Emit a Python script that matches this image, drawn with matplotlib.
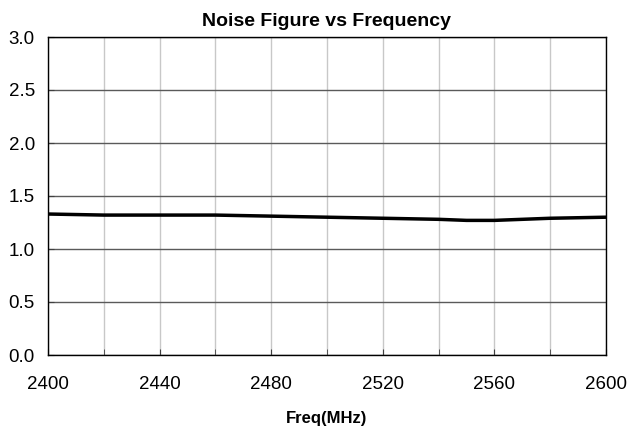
import numpy as np
import matplotlib
matplotlib.use("Agg")
import matplotlib.pyplot as plt

plt.rcParams['font.family'] = ['Liberation Sans', 'DejaVu Sans']

# data
freq = [2400, 2420, 2440, 2460, 2480, 2500, 2520, 2540, 2550, 2560, 2580, 2600]
nf = [1.33, 1.32, 1.32, 1.32, 1.31, 1.30, 1.29, 1.28, 1.27, 1.27, 1.29, 1.30]

xticks = [2400, 2440, 2480, 2520, 2560, 2600]
yticks = [0.0, 0.5, 1.0, 1.5, 2.0, 2.5, 3.0]

fig = plt.figure(figsize=(6.4, 4.29), dpi=100)
ax = fig.add_axes([48 / 640, 1 - 355 / 429, 558 / 640, 318 / 429])

ax.plot(freq, nf, color='black', linewidth=2.5, zorder=3)

ax.set_xlim(2400, 2600)
ax.set_ylim(0, 3.0)
ax.set_xticks(xticks)
ax.set_xticks(np.arange(2400, 2601, 20), minor=True)
ax.set_yticks(yticks)
ax.set_yticklabels(['%.1f' % v for v in yticks])

ax.grid(True, which='minor', axis='x', color='#c8c8c8', linewidth=1)
ax.grid(True, which='major', axis='x', color='#c8c8c8', linewidth=1)
ax.grid(True, which='major', axis='y', color='#5a5a5a', linewidth=1)

ax.tick_params(axis='both', which='both', direction='in', length=4, labelsize=13.5, color='#404040')
ax.tick_params(axis='x', pad=15)
ax.tick_params(axis='y', pad=9.5)
for s in ax.spines.values():
    s.set_color('black')
    s.set_linewidth(1)

ax.set_title('Noise Figure vs Frequency', fontsize=14, fontweight='bold', pad=8)
ax.set_xlabel('Freq(MHz)', fontsize=12, fontweight='bold', labelpad=13)

fig.savefig('out.png', dpi=100)
